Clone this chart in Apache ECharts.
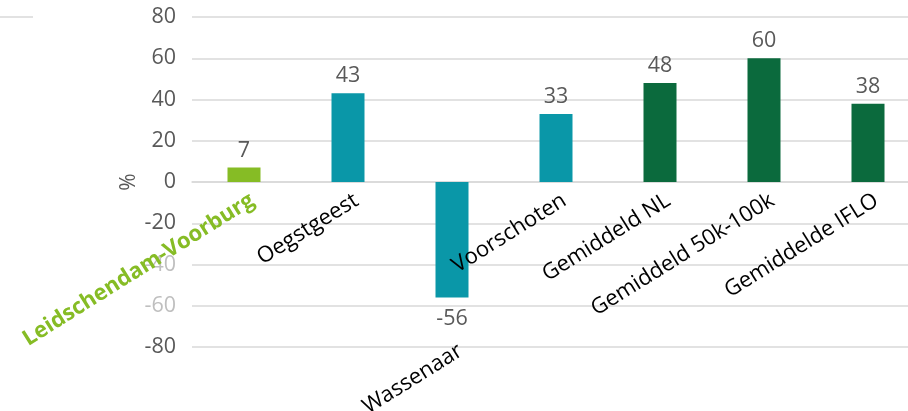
<!DOCTYPE html>
<html>
<head>
<meta charset="utf-8">
<script src="https://cdn.jsdelivr.net/npm/echarts@6/dist/echarts.min.js"></script>
<style>
  html, body { margin: 0; padding: 0; background: #fff; }
  #main { width: 908px; height: 411px; }
</style>
</head>
<body>
<div id="main"></div>
<script>
// gemeenten en benchmarks
const categories = ['Leidschendam-Voorburg', 'Oegstgeest', 'Wassenaar', 'Voorschoten', 'Gemiddeld NL', 'Gemiddeld 50k-100k', 'Gemiddelde IFLO'];
const values = [7, 43, -56, 33, 48, 60, 38];
const groups = ['focus', 'peer', 'peer', 'peer', 'bench', 'bench', 'bench'];
const yTicks = [-80, -60, -40, -20, 0, 20, 40, 60, 80];

const groupColor = { focus: '#86bc25', peer: '#0a97a8', bench: '#0b6a3d' };
const font = 'Open Sans';

const chart = echarts.init(document.getElementById('main'));

var barData = values.map(function (v, i) {
  return {
    value: v,
    itemStyle: { color: groupColor[groups[i]] },
    label: { position: v >= 0 ? 'top' : 'bottom', distance: v >= 0 ? 6 : 10 }
  };
});

var nameData = values.map(function (v, i) {
  var lbl = {
    distance: v >= 0 ? 22 : 57
  };
  if (groups[i] == 'focus') {
    lbl.color = groupColor.focus;
    lbl.fontWeight = 'bold';
  }
  return { value: v, label: lbl };
});

var option = {
  backgroundColor: '#fff',
  animation: false,
  textStyle: { fontFamily: font },
  grid: { left: 192, right: -12, top: 17, bottom: 64, outerBoundsMode: 'none' },
  graphic: [{
    type: 'line',
    shape: { x1: 0, y1: 17, x2: 33, y2: 17 },
    style: { stroke: '#d9d9d9', lineWidth: 1.5 }
  }],
  xAxis: {
    type: 'category',
    data: categories,
    axisLine: { show: true, lineStyle: { color: '#d9d9d9', width: 1.5 } },
    axisTick: { show: false },
    axisLabel: { show: false }
  },
  yAxis: {
    type: 'value',
    min: yTicks[0],
    max: yTicks[yTicks.length - 1],
    interval: 20,
    name: '%',
    nameLocation: 'middle',
    nameRotate: 90,
    nameGap: 52,
    nameMoveOverlap: false,
    nameTextStyle: { color: '#595959', fontSize: 21, fontFamily: font },
    axisLine: { show: false },
    axisTick: { show: false },
    splitLine: { lineStyle: { color: '#d9d9d9', width: 1.5 } },
    axisLabel: {
      margin: 16,
      fontSize: 21.5,
      fontFamily: font,
      color: function (v) {
        return (v == -40 || v == -60) ? '#bfbfbf' : '#595959';
      }
    }
  },
  series: [{
    type: 'bar',
    data: barData,
    barWidth: 33,
    label: {
      show: true,
      fontSize: 21.5,
      fontFamily: font,
      color: '#595959'
    }
  }, {
    type: 'bar',
    data: nameData,
    barWidth: 33,
    barGap: '-100%',
    silent: true,
    itemStyle: { color: 'rgba(0,0,0,0)' },
    label: {
      show: true,
      position: 'bottom',
      formatter: '{b}',
      rotate: 32,
      align: 'right',
      verticalAlign: 'middle',
      offset: [10, 0],
      fontSize: 22,
      fontFamily: font,
      color: '#000'
    },
    z: 5
  }]
};

chart.setOption(option);
</script>
</body>
</html>
